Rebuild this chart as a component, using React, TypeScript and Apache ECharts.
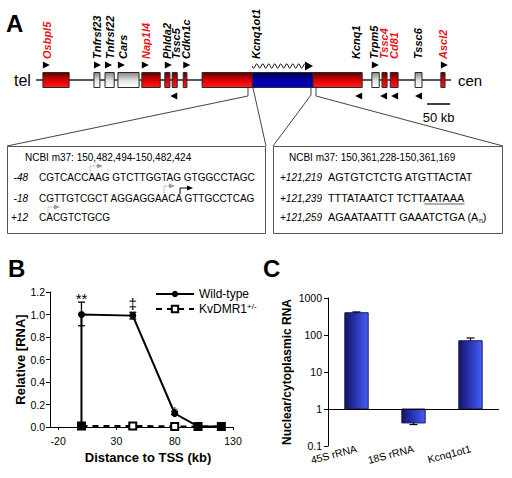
import React, { useEffect, useRef } from 'react';
import * as echarts from 'echarts';

const FONT = '"Liberation Sans", Arial, Helvetica, sans-serif';

// ---------- Panel A : gene map, positions in kb from the telomeric end of the drawn region
const geneNames = ['Osbpl5', 'Tnfrsf23', 'Tnfrsf22', 'Cars', 'Nap1l4', 'Phlda2', 'Tssc5', 'Cdkn1c', 'Kcnq1', 'Kcnq1ot1', 'Trpm5', 'Tssc4', 'Cd81', 'Tssc6', 'Ascl2'];
const geneStart = [15, 126, 150, 178, 230, 280, 296, 320, 361, 470, 730, 752, 770, 824, 880];
const geneEnd = [72, 139, 170, 224, 270, 291, 307, 328, 709, 602, 746, 763, 787, 839, 889];
const geneLabelKb = [24, 133, 161, 189, 239, 285, 304, 326, 696, 478, 735, 757, 778, 830, 885];
const geneStrand = ['+', '+', '+', '+', '+', '+', '-', '+', '-', '+', '+', '-', '-', '-', '+'];
const geneKind = ['red', 'grey', 'grey', 'grey', 'red', 'red', 'red', 'red', 'red', 'blue', 'grey', 'red', 'red', 'grey', 'red'];
const geneLabelRed = [true, false, false, false, true, false, false, false, false, false, false, true, true, false, true];
const mapLengthKb = 902;
const scaleBarStartKb = 850;
const scaleBarKb = 50;

// ---------- Panel B
const wtDistance = [0, 0, 44, 80, 100, 120];
const wtRelative = [0.01, 1.0, 0.99, 0.12, 0.005, 0.005];
const kvDistance = [0, 44, 80, 100, 120];
const kvRelative = [0.01, 0.01, 0.005, 0.005, 0.005];
const errDistance = [0, 44, 80];
const errLow = [0.9, 0.96, 0.11];
const errHigh = [1.11, 1.02, 0.14];
const sigText = ['**', '\u2021', '*'];
const sigY = [1.14, 1.1, 0.14];
const distanceTicks = [-20, 30, 80, 130];

// ---------- Panel C
const rnaNames = ['45S rRNA', '18S rRNA', 'Kcnq1ot1'];
const nucCytoRatio = [400, 0.42, 70];
const nucCytoErrEnd = [420, 0.38, 83];

const grad = (stops: [number, string][], horizontal = false) =>
  new echarts.graphic.LinearGradient(0, 0, horizontal ? 1 : 0, horizontal ? 0 : 1,
    stops.map(([offset, color]) => ({ offset, color })));

const fills: Record<string, any> = {
  red: grad([[0, '#560000'], [0.5, '#dc0000'], [1, '#ff1a1a']]),
  grey: grad([[0, '#858585'], [0.55, '#e6e6e6'], [1, '#ffffff']]),
  blue: grad([[0, '#000048'], [0.45, '#00009c'], [1, '#0000c4']]),
};
const barFill = grad([[0, '#14145e'], [0.5, '#2a36b8'], [1, '#4660f4']], true);

const measure = (text: string, font: string) => {
  const ctx = document.createElement('canvas').getContext('2d');
  if (!ctx) return text.length * 6;
  ctx.font = font;
  return ctx.measureText(text).width;
};

const txt = (text: string, x: number, y: number, extra: any = {}) => ({
  type: 'text', x, y, silent: true,
  style: { text, fill: '#000', fontFamily: FONT, fontSize: 10, align: 'left', verticalAlign: 'middle', ...extra },
});
const pline = (points: number[][], extra: any = {}) => ({
  type: 'polyline', silent: true, shape: { points },
  style: { stroke: '#444', lineWidth: 1, fill: null, ...extra },
});
const bentArrow = (x: number, yb: number, yt: number, len: number, grey: boolean) => {
  const col = grey ? '#9a9a9a' : '#000';
  return [
    pline([[x, yb], [x, yt], [x + len, yt]], { stroke: col, lineWidth: 1, lineDash: grey ? [1.5, 1.2] : null }),
    { type: 'polygon', silent: true, shape: { points: [[x + len, yt - 2.6], [x + len + 6, yt], [x + len, yt + 2.6]] }, style: { fill: col } },
  ];
};

export default function App() {
  const ref = useRef<HTMLDivElement>(null);
  useEffect(() => {
    if (!ref.current) return;
    const chart = echarts.init(ref.current, null, { renderer: 'svg' });

    const geneSeries = {
      type: 'custom', xAxisIndex: 0, yAxisIndex: 0, z: 3, silent: true,
      data: geneNames.map((n, i) => [geneStart[i], geneEnd[i], geneLabelKb[i]]),
      encode: { x: [0, 1, 2], y: [] },
      renderItem: (params: any, api: any) => {
        const i = params.dataIndex;
        const s = api.coord([api.value(0), 0]);
        const e = api.coord([api.value(1), 0]);
        const l = api.coord([api.value(2), 0]);
        const cy = s[1];
        const x0 = s[0];
        const x1 = e[0];
        const kind = geneKind[i];
        const plus = geneStrand[i] === '+';
        const children: any[] = [
          { type: 'rect', shape: { x: x0, y: cy - 7.5, width: x1 - x0, height: 15 }, style: { fill: fills[kind], stroke: '#2a2a2a', lineWidth: 1 } },
        ];
        if (kind === 'blue') {
          const pts: number[][] = [];
          const wx1 = x1 - 8;
          for (let x = x0; x <= wx1; x += 0.5) pts.push([x, cy - 14 + 2.2 * Math.sin(((x - x0) / 6) * 2 * Math.PI)]);
          children.push({ type: 'polyline', shape: { points: pts }, style: { stroke: '#000', lineWidth: 0.9, fill: null } });
          children.push({ type: 'polygon', shape: { points: [[wx1, cy - 18.5], [x1, cy - 14], [wx1, cy - 9.5]] }, style: { fill: '#000' } });
        } else if (plus) {
          children.push({ type: 'polygon', shape: { points: [[x0, cy - 18.5], [x0 + 7, cy - 15], [x0, cy - 11.5]] }, style: { fill: '#000' } });
        } else {
          children.push({ type: 'polygon', shape: { points: [[x1, cy + 12.5], [x1 - 7, cy + 16], [x1, cy + 19.5]] }, style: { fill: '#000' } });
        }
        children.push({
          type: 'text', x: l[0], y: cy - 21, rotation: Math.PI / 2,
          style: { text: geneNames[i], fill: geneLabelRed[i] ? '#e8141b' : '#000', fontSize: 11, fontStyle: 'italic', fontWeight: 'bold', fontFamily: FONT, align: 'left', verticalAlign: 'middle' },
        });
        return { type: 'group', children };
      },
    };

    const scaleSeries = {
      type: 'custom', xAxisIndex: 0, yAxisIndex: 0, z: 3, silent: true,
      data: [[scaleBarStartKb, scaleBarStartKb + scaleBarKb]],
      encode: { x: [0, 1], y: [] },
      renderItem: (params: any, api: any) => {
        const s = api.coord([api.value(0), 0]);
        const e = api.coord([api.value(1), 0]);
        const y = s[1] + 24;
        return {
          type: 'group', children: [
            { type: 'line', shape: { x1: s[0], y1: y, x2: e[0], y2: y }, style: { stroke: '#000', lineWidth: 1.5 } },
            { type: 'text', x: (s[0] + e[0]) / 2, y: y + 13, style: { text: scaleBarKb + ' kb', fill: '#000', fontSize: 13, fontFamily: FONT, align: 'center', verticalAlign: 'middle' } },
          ],
        };
      },
    };

    const errSeriesB = {
      type: 'custom', xAxisIndex: 1, yAxisIndex: 1, z: 5, silent: true,
      data: errDistance.map((d, i) => [d, errLow[i], errHigh[i]]),
      encode: { x: 0, y: [1, 2] },
      renderItem: (params: any, api: any) => {
        const lo = api.coord([api.value(0), api.value(1)]);
        const hi = api.coord([api.value(0), api.value(2)]);
        const st = { stroke: '#000', lineWidth: 1.3 };
        return {
          type: 'group', children: [
            { type: 'line', shape: { x1: lo[0], y1: lo[1], x2: hi[0], y2: hi[1] }, style: st },
            { type: 'line', shape: { x1: hi[0] - 3.5, y1: hi[1], x2: hi[0] + 3.5, y2: hi[1] }, style: st },
            { type: 'line', shape: { x1: lo[0] - 3.5, y1: lo[1], x2: lo[0] + 3.5, y2: lo[1] }, style: st },
          ],
        };
      },
    };

    const sigSeries = {
      type: 'custom', xAxisIndex: 1, yAxisIndex: 1, z: 6, silent: true,
      data: errDistance.map((d, i) => [d, sigY[i]]),
      encode: { x: 0, y: 1 },
      renderItem: (params: any, api: any) => {
        const p = api.coord([api.value(0), api.value(1)]);
        return { type: 'text', x: p[0], y: p[1], style: { text: sigText[params.dataIndex], fill: '#000', fontSize: 15, fontFamily: FONT, align: 'center', verticalAlign: 'middle' } };
      },
    };

    const barSeriesC = {
      type: 'custom', xAxisIndex: 2, yAxisIndex: 2, z: 3, silent: true,
      data: rnaNames.map((n, i) => [i, nucCytoRatio[i]]),
      encode: { x: 0, y: 1 },
      renderItem: (params: any, api: any) => {
        const idx = api.value(0);
        const base = api.coord([idx, 1]);
        const top = api.coord([idx, api.value(1)]);
        const band = Math.abs(api.coord([1, 1])[0] - api.coord([0, 1])[0]);
        const w = band * 0.41;
        return {
          type: 'rect',
          shape: { x: base[0] - w / 2, y: Math.min(base[1], top[1]), width: w, height: Math.abs(base[1] - top[1]) },
          style: { fill: barFill, stroke: '#1a1a55', lineWidth: 1 },
        };
      },
      markLine: {
        silent: true, symbol: 'none', label: { show: false },
        lineStyle: { color: '#000', width: 1, type: 'solid' },
        data: [{ yAxis: 1 }],
      },
    };

    const errSeriesC = {
      type: 'custom', xAxisIndex: 2, yAxisIndex: 2, z: 4, silent: true,
      data: rnaNames.map((n, i) => [i, nucCytoRatio[i], nucCytoErrEnd[i]]),
      encode: { x: 0, y: [1, 2] },
      renderItem: (params: any, api: any) => {
        const a = api.coord([api.value(0), api.value(1)]);
        const b = api.coord([api.value(0), api.value(2)]);
        const st = { stroke: '#000', lineWidth: 1.2 };
        return {
          type: 'group', children: [
            { type: 'line', shape: { x1: a[0], y1: a[1], x2: b[0], y2: b[1] }, style: st },
            { type: 'line', shape: { x1: b[0] - 4, y1: b[1], x2: b[0] + 4, y2: b[1] }, style: st },
          ],
        };
      },
    };

    const rSize = 10.8;
    const seqFont = rSize + 'px "Liberation Sans", Arial, sans-serif';
    const ulStart = 328 + measure('TTTATAATCT TCTT', seqFont);
    const ulEnd = 328 + measure('TTTATAATCT TCTTAATAAA', seqFont);

    const graphic: any[] = [
      txt('A', 6, 23.5, { fontSize: 24, fontWeight: 'bold' }),
      txt('B', 8, 268.5, { fontSize: 24, fontWeight: 'bold' }),
      txt('C', 263, 268.5, { fontSize: 24, fontWeight: 'bold' }),
      txt('tel', 14, 80, { fontSize: 16 }),
      txt('cen', 458, 80, { fontSize: 15 }),
      // connectors
      pline([[248, 88], [248, 96], [7, 146]]),
      pline([[253, 88], [266, 146]]),
      pline([[311, 88], [311, 95], [273, 146]]),
      pline([[316, 88], [316, 96], [503, 146]]),
      // inset boxes
      { type: 'rect', silent: true, shape: { x: 7.5, y: 146.5, width: 258, height: 87 }, style: { fill: null, stroke: '#555', lineWidth: 1 } },
      { type: 'rect', silent: true, shape: { x: 273.5, y: 146.5, width: 229, height: 87 }, style: { fill: null, stroke: '#555', lineWidth: 1 } },
      // left inset
      txt('NCBI m37: 150,482,494-150,482,424', 25, 157),
      txt('-48', 28, 177, { align: 'right', fontStyle: 'italic' }),
      txt('-18', 28, 198, { align: 'right', fontStyle: 'italic' }),
      txt('+12', 28, 217, { align: 'right', fontStyle: 'italic' }),
      txt('CGTCACCAAG GTCTTGGTAG GTGGCCTAGC', 39, 177),
      txt('CGTTGTCGCT AGGAGGAACA GTTGCCTCAG', 39, 198),
      txt('CACGTCTGCG', 39, 217),
      ...bentArrow(90, 174, 166, 7, true),
      ...bentArrow(164, 193, 186, 5, true),
      ...bentArrow(180, 194, 188, 7, false),
      ...bentArrow(48, 213, 207, 6, true),
      // right inset
      txt('NCBI m37: 150,361,228-150,361,169', 289, 157),
      txt('+121,219', 280, 177, { fontStyle: 'italic' }),
      txt('+121,239', 280, 198, { fontStyle: 'italic' }),
      txt('+121,259', 280, 217, { fontStyle: 'italic' }),
      txt('AGTGTCTCTG ATGTTACTAT', 328, 177, { fontSize: rSize }),
      txt('TTTATAATCT TCTTAATAAA', 328, 198, { fontSize: rSize }),
      txt('AGAATAATTT GAAATCTGA (A{sub|n})', 328, 217, { fontSize: rSize, rich: { sub: { fontSize: 7, fontFamily: FONT, fill: '#000', padding: [6, 0, 0, 0] } } }),
      { type: 'line', silent: true, shape: { x1: ulStart, y1: 204, x2: ulEnd, y2: 204 }, style: { stroke: '#333', lineWidth: 0.8 } },
    ];

    const option: any = {
      animation: false,
      backgroundColor: '#fff',
      textStyle: { fontFamily: FONT, color: '#000' },
      grid: [
        { left: 36, top: 30, width: 415, height: 100, show: false },
        { left: 50, top: 292, width: 183, height: 135, show: false },
        { left: 328, top: 298, width: 171, height: 148, show: false },
      ],
      xAxis: [
        { gridIndex: 0, type: 'value', min: 0, max: mapLengthKb, show: false },
        {
          gridIndex: 1, type: 'value', min: -27, max: 130,
          name: 'Distance to TSS (kb)', nameLocation: 'middle', nameGap: 24,
          nameTextStyle: { fontSize: 13, fontWeight: 'bold', color: '#000', padding: [0, 0, 0, 13] },
          axisLine: { show: true, onZero: false, lineStyle: { color: '#000', width: 1 } },
          axisTick: { show: true, length: 3, customValues: distanceTicks, lineStyle: { color: '#000' } },
          axisLabel: { customValues: distanceTicks, fontSize: 10.5, color: '#000', margin: 8 },
          splitLine: { show: false },
        },
        {
          gridIndex: 2, type: 'category', data: rnaNames,
          axisLine: { show: false }, axisTick: { show: false },
          axisLabel: { rotate: 15, fontSize: 10.5, color: '#000', margin: 2, interval: 0 },
          splitLine: { show: false },
        },
      ],
      yAxis: [
        { gridIndex: 0, type: 'value', min: -1, max: 1, show: false },
        {
          gridIndex: 1, type: 'value', min: 0, max: 1.2, interval: 0.2,
          name: 'Relative [RNA]', nameLocation: 'middle', nameGap: 22,
          nameTextStyle: { fontSize: 13, fontWeight: 'bold', color: '#000' },
          axisLine: { show: true, onZero: false, lineStyle: { color: '#000', width: 1 } },
          axisTick: { show: true, length: 4, lineStyle: { color: '#000' } },
          axisLabel: { fontSize: 10.5, color: '#000', margin: 5, formatter: (v: number) => v.toFixed(1) },
          splitLine: { show: false },
        },
        {
          gridIndex: 2, type: 'log', logBase: 10, min: 0.1, max: 1000,
          name: 'Nuclear/cytoplasmic RNA', nameLocation: 'middle', nameGap: 35,
          nameTextStyle: { fontSize: 12, fontWeight: 'bold', color: '#000' },
          axisLine: { show: true, onZero: false, lineStyle: { color: '#000', width: 1 } },
          axisTick: { show: true, length: 4, lineStyle: { color: '#000' } },
          axisLabel: { fontSize: 10.5, color: '#000', margin: 6, formatter: (v: number) => (v < 1 ? v.toFixed(1) : String(Math.round(v))) },
          splitLine: { show: false }, minorTick: { show: false },
        },
      ],
      legend: {
        left: 150, top: 283, orient: 'vertical', itemWidth: 38, itemHeight: 8, itemGap: 2,
        data: ['Wild-type', 'KvDMR1+/-'],
        formatter: (name: string) => (name === 'KvDMR1+/-' ? 'KvDMR1{s|+/-}' : name),
        textStyle: { fontSize: 12, color: '#000', fontFamily: FONT, rich: { s: { fontSize: 8, fontFamily: FONT, verticalAlign: 'top', padding: [0, 0, 6, 0] } } },
      },
      series: [
        {
          type: 'line', xAxisIndex: 0, yAxisIndex: 0, silent: true, z: 1,
          data: [[0, 0], [mapLengthKb, 0]], symbol: 'none',
          lineStyle: { color: '#222', width: 1.5 },
        },
        geneSeries,
        scaleSeries,
        {
          name: 'KvDMR1+/-', type: 'line', xAxisIndex: 1, yAxisIndex: 1, z: 3,
          data: kvDistance.map((d, i) => [d, kvRelative[i]]),
          symbol: 'emptyRect', symbolSize: 7,
          itemStyle: { color: '#000', borderWidth: 1.2 },
          lineStyle: { color: '#000', width: 2, type: [6, 5] },
        },
        {
          name: 'Wild-type', type: 'line', xAxisIndex: 1, yAxisIndex: 1, z: 4,
          data: wtDistance.map((d, i) => [d, wtRelative[i]]),
          symbol: 'circle', symbolSize: 7,
          itemStyle: { color: '#000' },
          lineStyle: { color: '#000', width: 2 },
        },
        errSeriesB,
        sigSeries,
        barSeriesC,
        errSeriesC,
      ],
      graphic,
    };
    chart.setOption(option);
    return () => chart.dispose();
  }, []);
  return <div ref={ref} style={{ position: 'fixed', left: 0, top: 0, width: 512, height: 478, background: '#fff' }} />;
}
